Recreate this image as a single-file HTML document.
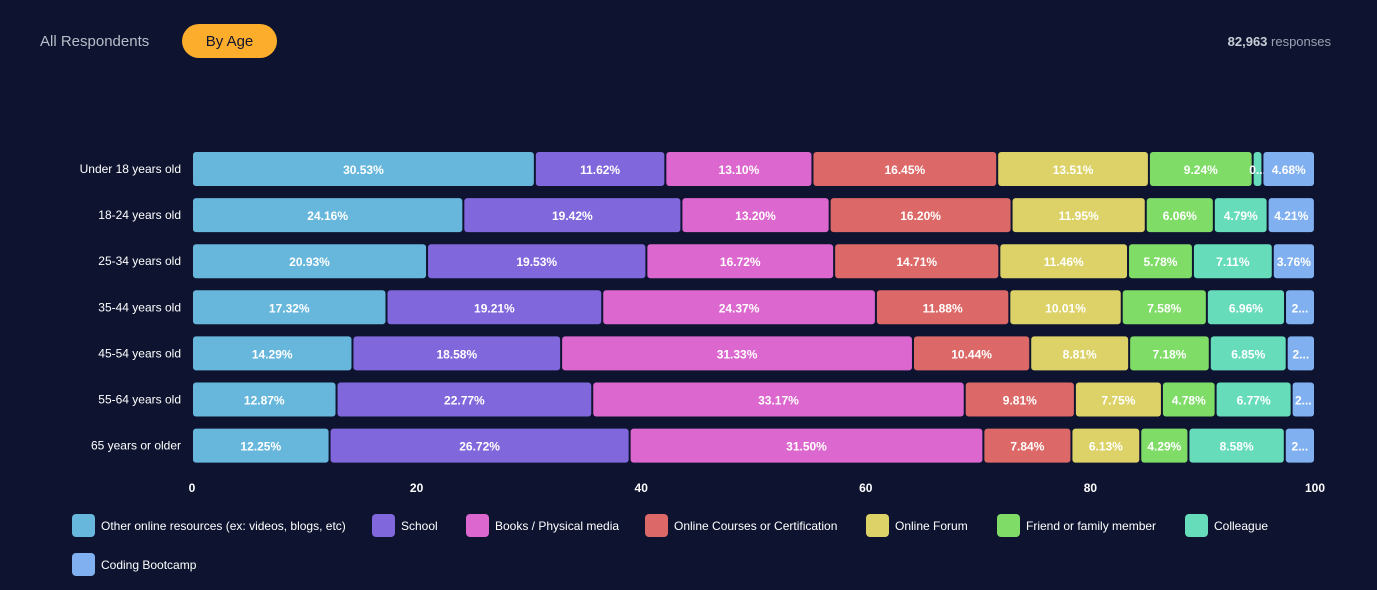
<!DOCTYPE html>
<html><head><meta charset="utf-8">
<style>
html,body{margin:0;padding:0;background:#0e1430;width:1377px;height:590px;overflow:hidden;font-family:"Liberation Sans",sans-serif;}
.hdr{position:absolute;color:#b8bdc9;font-size:15px;}
.pill{position:absolute;left:182px;top:24px;width:95px;height:34px;border-radius:17px;background:#fdad2c;color:#101530;font-size:15px;text-align:center;line-height:35px;}
.resp{position:absolute;right:46px;top:34px;color:#9ba1b0;font-size:13px;}
.resp b{color:#c9cdd6;}
.leg{position:absolute;display:flex;align-items:center;color:#fff;font-size:12px;}
.sw{width:23px;height:23px;border-radius:4px;margin-right:6px;}
</style></head><body>
<div class="hdr" style="left:40px;top:33px;">All Respondents</div>
<div class="pill">By Age</div>
<div class="resp"><b>82,963</b> responses</div>
<svg id="chart" width="1377" height="500" style="position:absolute;left:0;top:0"></svg>
<div class="leg" style="left:72px;top:514px"><div class="sw" style="background:#67b7dc"></div>Other online resources (ex: videos, blogs, etc)</div>
<div class="leg" style="left:372px;top:514px"><div class="sw" style="background:#8067dc"></div>School</div>
<div class="leg" style="left:466px;top:514px"><div class="sw" style="background:#dc67ce"></div>Books / Physical media</div>
<div class="leg" style="left:645px;top:514px"><div class="sw" style="background:#dc6967"></div>Online Courses or Certification</div>
<div class="leg" style="left:866px;top:514px"><div class="sw" style="background:#dcd267"></div>Online Forum</div>
<div class="leg" style="left:997px;top:514px"><div class="sw" style="background:#7fdc67"></div>Friend or family member</div>
<div class="leg" style="left:1185px;top:514px"><div class="sw" style="background:#67dcbb"></div>Colleague</div>
<div class="leg" style="left:72px;top:553px"><div class="sw" style="background:#80b0f0"></div>Coding Bootcamp</div>
<script>
const categories=["Under 18 years old","18-24 years old","25-34 years old","35-44 years old","45-54 years old","55-64 years old","65 years or older"];
const otherOnline=[30.53,24.16,20.93,17.32,14.29,12.87,12.25];
const school=[11.62,19.42,19.53,19.21,18.58,22.77,26.72];
const books=[13.10,13.20,16.72,24.37,31.33,33.17,31.50];
const courses=[16.45,16.20,14.71,11.88,10.44,9.81,7.84];
const forum=[13.51,11.95,11.46,10.01,8.81,7.75,6.13];
const friend=[9.24,6.06,5.78,7.58,7.18,4.78,4.29];
const colleague=[0.87,4.79,7.11,6.96,6.85,6.77,8.58];
const bootcamp=[4.68,4.21,3.76,2.67,2.52,2.08,2.69];
const xTicks=[0,20,40,60,80,100];
const series=[otherOnline,school,books,courses,forum,friend,colleague,bootcamp];
const seriesNames=["other-online","school","books","online-courses","online-forum","friend-family","colleague","coding-bootcamp"];
const colors=["#67b7dc","#8067dc","#dc67ce","#dc6967","#dcd267","#7fdc67","#67dcbb","#80b0f0"];
const NS="http://www.w3.org/2000/svg";
const svg=document.getElementById("chart");
const x0=192,x1=1315;
const xs=v=>x0+(x1-x0)*v/100;
const ys=i=>169+i*46.1;
function mk(t,a){const e=document.createElementNS(NS,t);for(const k in a)e.setAttribute(k,a[k]);svg.appendChild(e);return e;}
xTicks.forEach(t=>{
  const e=mk("text",{x:xs(t),y:492,"text-anchor":"middle",fill:"#fff","font-size":"12","font-weight":"bold"});
  
  
  e.textContent=t;
});
categories.forEach((c,i)=>{
  const y=ys(i);
  const l=mk("text",{x:181,y:y+4,"text-anchor":"end",fill:"#fff","font-size":"12"});
  
  
  l.textContent=c;
  let cum=0;
  series.forEach((s,k)=>{
    const v=s[i];const a=xs(cum),b=xs(cum+v);cum+=v;
    const w=Math.max(b-a-2,1);
    const r=mk("rect",{x:a+1,y:y-17,width:w,height:34,rx:3,fill:colors[k]});
    
    
    let txt=v.toFixed(2)+"%";
    if(w<40) txt=txt[0]+"...";
    const t=mk("text",{x:a+1+w/2,y:y+5,"text-anchor":"middle",fill:"#fff","font-size":"12","font-weight":"bold"});
    
    
    t.textContent=txt;
  });
});
</script>
</body></html>
